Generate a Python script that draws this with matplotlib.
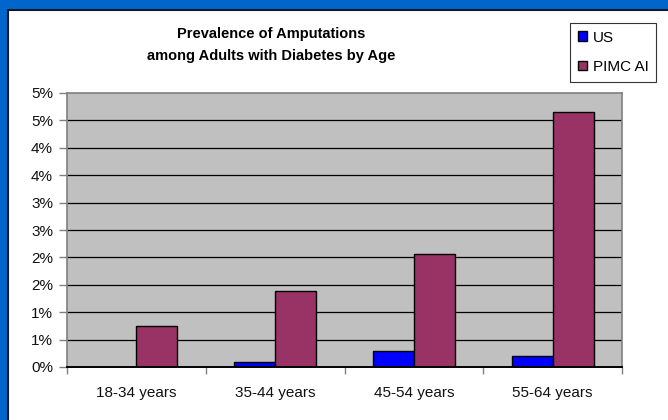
import numpy as np
import matplotlib
matplotlib.use("Agg")
import matplotlib.pyplot as plt
from matplotlib.patches import Rectangle

categories = ["18-34 years", "35-44 years", "45-54 years", "55-64 years"]
us_values = [0.0, 0.09, 0.29, 0.20]
pimc_values = [0.75, 1.39, 2.06, 4.66]
series_names = ["US", "PIMC AI"]
y_ticks = [0, 0.5, 1.0, 1.5, 2.0, 2.5, 3.0, 3.5, 4.0, 4.5, 5.0]
y_tick_labels = ["0%", "1%", "1%", "2%", "2%", "3%", "3%", "4%", "4%", "5%", "5%"]
title = "Prevalence of Amputations\namong Adults with Diabetes by Age"

plt.rcParams['font.family'] = ['Liberation Sans', 'DejaVu Sans']

W, H = 668, 420
fig = plt.figure(figsize=(W / 100, H / 100), dpi=100, facecolor="#0066CC")

# white panel
panel = Rectangle((8 / W, -0.05), 1.1, (H - 10) / H + 0.05, transform=fig.transFigure,
                  facecolor="white", edgecolor="#101828", linewidth=1.5, zorder=-10)
fig.patches.append(panel)

ax = fig.add_axes([67 / W, (H - 367) / H, (622 - 67) / W, (367 - 93) / H])
ax.set_zorder(5)
ax.set_facecolor("#C0C0C0")

x = np.arange(len(categories))
bw = 0.295
ax.bar(x - bw / 2, us_values, width=bw, color="#0000FF", edgecolor="black",
       linewidth=1.0, label=series_names[0], zorder=3)
ax.bar(x + bw / 2, pimc_values, width=bw, color="#993366", edgecolor="black",
       linewidth=1.0, label=series_names[1], zorder=3)

ax.set_xlim(-0.5, len(categories) - 0.5)
ax.set_ylim(0, 5.0)
ax.set_yticks(y_ticks)
ax.set_yticklabels(y_tick_labels, fontsize=11, color="#111111")
for yv in y_ticks[1:-1]:
    ax.axhline(yv, color="black", linewidth=0.9, zorder=1)

ax.set_xticks(x)
ax.set_xticklabels(categories, fontsize=11, color="#111111")
ax.tick_params(axis="x", length=0, pad=14)
# category boundary ticks
ax.set_xticks(np.arange(-0.5, len(categories) + 0.5, 1.0), minor=True)
ax.tick_params(axis="x", which="minor", length=5, color="#808080", width=1)
ax.tick_params(axis="y", length=6, color="#808080", width=1, pad=4)

for s in ["top", "right", "left"]:
    ax.spines[s].set_color("#808080")
    ax.spines[s].set_linewidth(1.2)
ax.spines["bottom"].set_color("black")
ax.spines["bottom"].set_linewidth(1.4)
ax.spines["bottom"].set_zorder(4)

fig.text(271 / W, 1 - 45 / H, title, ha="center", va="center", fontsize=10.5,
         fontweight="bold", linespacing=1.8, zorder=6)

leg = fig.legend(loc="upper left", bbox_to_anchor=(570 / W, 1 - 23 / H),
                 bbox_transform=fig.transFigure, fontsize=11, frameon=True,
                 fancybox=False, edgecolor="black", handlelength=0.6,
                 handleheight=0.6, handletextpad=0.4, labelspacing=1.0,
                 borderpad=0.5, borderaxespad=0)
leg.get_frame().set_linewidth(0.8)
leg.set_zorder(6)

fig.savefig("out.png", dpi=100, facecolor=fig.get_facecolor())
